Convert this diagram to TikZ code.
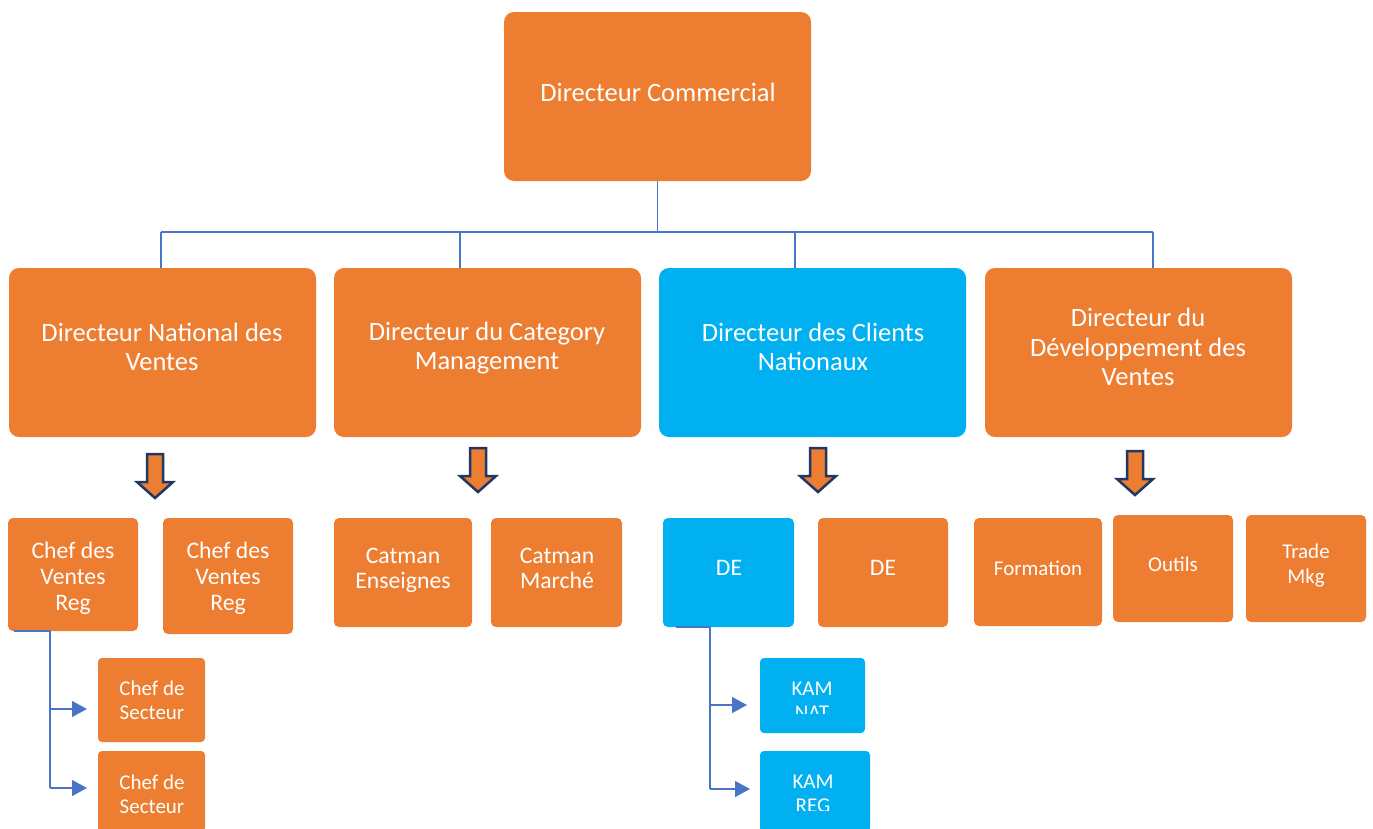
\documentclass[tikz,border=0pt]{standalone}
\usepackage{fontspec}
\setmainfont{Carlito}
\usetikzlibrary{arrows.meta}

\definecolor{boxorange}{HTML}{ED7D31}
\definecolor{boxblue}{HTML}{00B0F0}
\definecolor{linkblue}{HTML}{4A74C8}
\definecolor{navy}{HTML}{203864}

% Box from (x1,y1) to (x2,y2) in pixel-like units: name, x1, y1, x2, y2, colour, corner radius
\newcommand\orgbox[7]{%
  \node[fill=#6, draw=none, rounded corners=#7pt, inner sep=0pt, outer sep=0pt,
        minimum width={#4pt-#2pt}, minimum height={#5pt-#3pt}]
        (#1) at ({(#2+#4)/2},{(#3+#5)/2}) {};}

\tikzset{
  lbl/.style={text=white, align=center, inner sep=0pt},
  big/.style={lbl, font=\fontsize{26.5}{28.5}\selectfont},
  mid/.style={lbl, font=\fontsize{23.7}{26}\selectfont},
  small/.style={lbl, font=\fontsize{21}{24}\selectfont},
  link/.style={draw=linkblue, line width=1.3pt},
  linkarrow/.style={link, -{Triangle[length=15pt,width=16pt]}},
  downarrow/.pic={
    \draw[fill=boxorange, draw=navy, line width=2.5pt, line join=miter]
      (-8,0) -- (8,0) -- (8,28) -- (18,28) -- (0,44) -- (-18,28) -- (-8,28) -- cycle;}
}

\begin{document}
\begin{tikzpicture}[x=1pt, y=-1pt]
\useasboundingbox (0,0) rectangle (1373,828);

% Top
\orgbox{top}{504}{12}{811}{181}{boxorange}{10}
\node[big] (topT) at (658,92) {Directeur Commercial};

% Second level
\orgbox{A}{9}{268}{316}{437}{boxorange}{10}
\orgbox{B}{334}{268}{641}{437}{boxorange}{10}
\orgbox{C}{659}{268}{966}{437}{boxblue}{10}
\orgbox{D}{985}{268}{1292}{437}{boxorange}{10}
\node[big] (AT) at (162,347) {Directeur National des\\Ventes};
\node[big] (BT) at (487,348) {Directeur du Category\\Management};
\node[big] (CT) at (813,347) {Directeur des Clients\\Nationaux};
\node[big, font=\fontsize{26.5}{29.5}\selectfont] (DT) at (1138,347) {Directeur du\\Développement des\\Ventes};

% Tree connectors
\coordinate (hub) at (657.5,232);
\coordinate (busA) at (161,232);
\coordinate (busB) at (460,232);
\coordinate (busC) at (795,232);
\coordinate (busD) at (1153,232);
\draw[link] (top.south) -- (top.south |- hub);
\draw[link] (busA) -- (busD);
\draw[link] (busA) -- (busA |- A.north);
\draw[link] (busB) -- (busB |- B.north);
\draw[link] (busC) -- (busC |- C.north);
\draw[link] (busD) -- (busD |- D.north);

% Block arrows
\pic (arrA) at (155,454) {downarrow};
\pic (arrB) at (478,448) {downarrow};
\pic (arrC) at (818,448) {downarrow};
\pic (arrD) at (1135,451) {downarrow};

% Third level
\orgbox{CV1}{8}{518}{138}{631}{boxorange}{5}
\orgbox{CV2}{163}{518}{293}{634}{boxorange}{5}
\orgbox{CE}{334}{518}{472}{627}{boxorange}{5}
\orgbox{CM}{491}{518}{622}{627}{boxorange}{5}
\orgbox{DE1}{663}{518}{794}{627}{boxblue}{5}
\orgbox{DE2}{818}{518}{948}{627}{boxorange}{5}
\orgbox{FO}{974}{518}{1102}{626}{boxorange}{5}
\orgbox{OU}{1113}{515}{1233}{622}{boxorange}{5}
\orgbox{TM}{1246}{515}{1366}{622}{boxorange}{5}
\node[mid] (CV1T) at (73,578) {Chef des\\Ventes\\Reg};
\node[mid] (CV2T) at (228,578) {Chef des\\Ventes\\Reg};
\node[mid, font=\fontsize{23.7}{25}\selectfont] (CET) at (403,570) {Catman\\Enseignes};
\node[mid, font=\fontsize{23.7}{25}\selectfont] (CMT) at (557,568.5) {Catman\\Marché};
\node[mid] (DE1T) at (729,568) {DE};
\node[mid] (DE2T) at (883,568) {DE};
\node[small] (FOT) at (1038,568) {Formation};
\node[small] (OUT) at (1173,564) {Outils};
\node[small, font=\fontsize{21}{25}\selectfont] (TMT) at (1306,565.5) {Trade\\Mkg};

% Fourth level
\orgbox{CS1}{98}{658}{205}{742}{boxorange}{4}
\orgbox{CS2}{98}{751}{205}{832}{boxorange}{4}
\orgbox{KN}{760}{658}{865}{733}{boxblue}{4}
\orgbox{KR}{760}{751}{870}{832}{boxblue}{4}
\node[small] (CS1T) at (152,700) {Chef de\\Secteur};
\node[small] (CS2T) at (152,794) {Chef de\\Secteur};
\begin{scope}
  \clip (700,640) rectangle (900,713);
  \node[small] (KNT) at (812,701) {KAM\\NAT};
\end{scope}
\begin{scope}
  \clip (700,740) rectangle (900,810);
  \node[small] (KRT) at (813,794) {KAM\\REG};
\end{scope}

% Branches to the fourth level
\coordinate (sA) at (14,631);
\coordinate (jA) at (50,631);
\coordinate (kA1) at (50,709);
\coordinate (kA2) at (50,788);
\draw[link] (sA) -- (jA) -- (kA2);
\draw[linkarrow, shorten >=11pt] (kA1) -- (kA1 -| CS1.west);
\draw[linkarrow, shorten >=11pt] (kA2) -- (kA2 -| CS2.west);

\coordinate (sC) at (676,627);
\coordinate (jC) at (710,627);
\coordinate (kC1) at (710,705);
\coordinate (kC2) at (710,789);
\draw[link] (sC) -- (jC) -- (kC2);
\draw[linkarrow, shorten >=13pt] (kC1) -- (kC1 -| KN.west);
\draw[linkarrow, shorten >=10pt] (kC2) -- (kC2 -| KR.west);
\end{tikzpicture}
\end{document}
